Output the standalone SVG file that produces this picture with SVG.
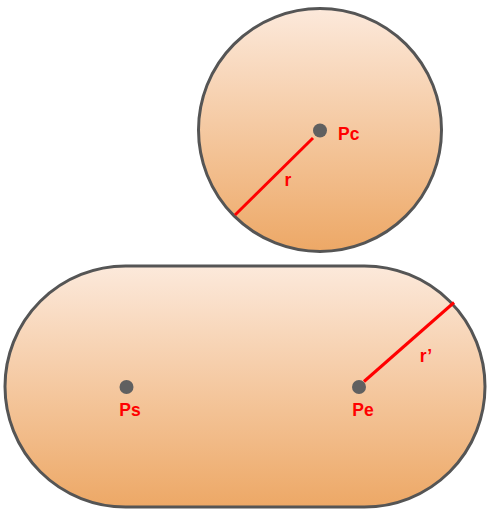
<svg xmlns="http://www.w3.org/2000/svg" width="489" height="511" viewBox="0 0 489 511">
<defs>
<linearGradient id="gc" x1="0" y1="0" x2="0" y2="1">
<stop offset="0" stop-color="#fce9db"/>
<stop offset="1" stop-color="#eda866"/>
</linearGradient>
<style>
.shape{fill:url(#gc);stroke:#555;stroke-width:3}
.dot{fill:#606060}
.rad{stroke:#ff0000;stroke-width:3;stroke-linecap:butt}
.lbl{font-family:"Liberation Sans",Arial,sans-serif;font-weight:bold;font-size:17.5px;fill:#ff0000}
</style>
</defs>
<g id="circle">
<circle class="shape" cx="320" cy="130" r="121.5"/>
<circle class="dot" cx="320" cy="130.5" r="7"/>
<text class="lbl" x="338" y="140">Pc</text>
</g>
<g id="capsule">
<rect class="shape" x="5" y="266" width="480" height="241" rx="120.5" ry="120.5"/>
<circle class="dot" cx="126.5" cy="387" r="7"/>
<circle class="dot" cx="359" cy="387" r="7"/>
<text class="lbl" x="130" y="416" text-anchor="middle">Ps</text>
<text class="lbl" x="363" y="416" text-anchor="middle">Pe</text>
</g>
<g id="connectors">
<line class="rad" x1="313" y1="138" x2="235" y2="215"/>
<text class="lbl" x="288" y="186" text-anchor="middle">r</text>
<line class="rad" x1="364" y1="381.5" x2="454" y2="302.5"/>
<text class="lbl" x="426" y="362" text-anchor="middle">r’</text>
</g>
</svg>
